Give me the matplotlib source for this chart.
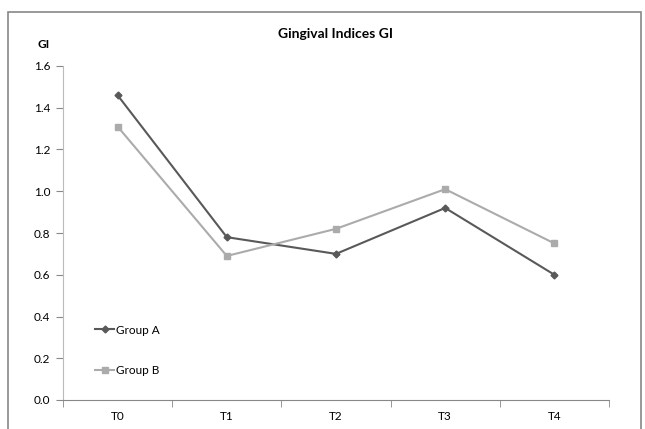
import numpy as np
import matplotlib.pyplot as plt
from matplotlib.patches import Rectangle

plt.rcParams['font.family'] = ['Lato', 'DejaVu Sans']

times = ['T0', 'T1', 'T2', 'T3', 'T4']
group_a = [1.46, 0.78, 0.70, 0.92, 0.60]
group_b = [1.31, 0.69, 0.82, 1.01, 0.75]

fig = plt.figure(figsize=(6.45, 4.29), dpi=100)
ax = fig.add_axes([63/645, 29/429, 546/645, 334/429])

x = np.arange(len(times))
ax.plot(x, group_a, '-D', color='#595959', lw=1.5, ms=3.5, label='Group A')
ax.plot(x, group_b, '-s', color='#ababab', lw=1.5, ms=4.5, label='Group B')

ax.set_xlim(-0.5, 4.5)
ax.set_ylim(0, 1.6)
ax.set_yticks(np.arange(0, 1.61, 0.2))
ax.set_yticklabels([f'{v:.1f}' for v in np.arange(0, 1.61, 0.2)])
ax.set_xticks(x)
ax.set_xticklabels(times)
ax.set_xticks(np.arange(-0.5, 4.6, 1), minor=True)
ax.tick_params(axis='x', which='major', length=0, labelsize=8.5, pad=8)
ax.tick_params(axis='x', which='minor', length=5, color='#888888')
ax.tick_params(axis='y', length=5, color='#888888', labelsize=8.5, pad=4)

for s in ['top', 'right']:
    ax.spines[s].set_visible(False)
ax.spines['left'].set_color('#bbbbbb')
ax.spines['bottom'].set_color('#888888')

ax.set_title('Gingival Indices GI', fontsize=10, fontweight='bold', pad=20)
fig.text(38/645, 1 - 44/429, 'GI', fontsize=8.5, fontweight='bold', va='center', ha='left')

ax.legend(loc='lower left', bbox_to_anchor=(0.04, 0.04), frameon=False,
          fontsize=8.5, labelspacing=2.5, handlelength=1.6, handletextpad=0.1)

fig.patches.append(Rectangle((8/645, -0.05), 633/645, 1.05 - 12/429,
                             transform=fig.transFigure, fill=False,
                             edgecolor='#888888', lw=1.2))

fig.savefig('out.png', dpi=100)
